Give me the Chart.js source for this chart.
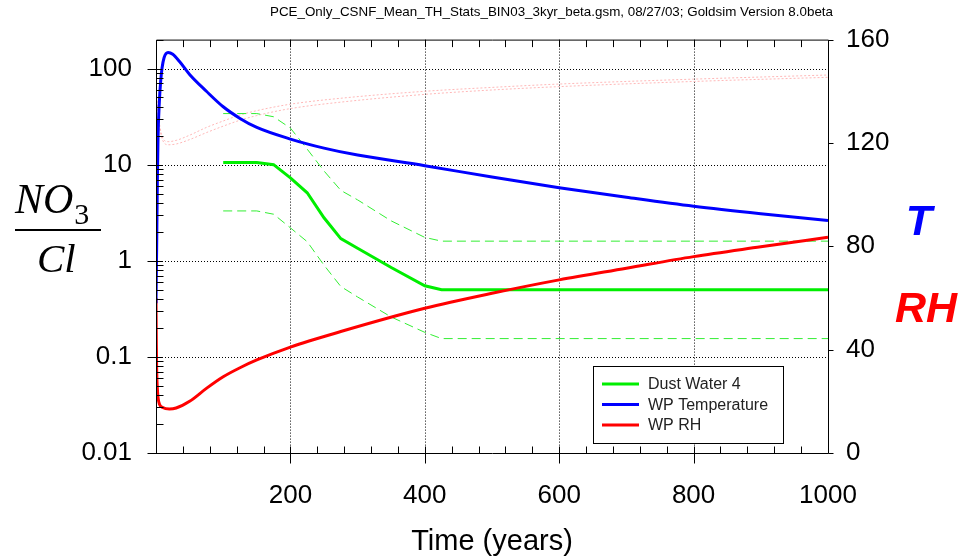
<!DOCTYPE html>
<html>
<head>
<meta charset="utf-8">
<script src="https://cdn.jsdelivr.net/npm/chart.js@4.4.1/dist/chart.umd.min.js"></script>
<style>
  html, body { margin: 0; padding: 0; background: #fff; }
</style>
</head>
<body>
<canvas id="chart" width="969" height="558"></canvas>
<script>
// dust water NO3/Cl ratio (mean and bounds), left log axis
const timeDust = [100, 150, 175, 200, 225, 250, 275, 300, 350, 400, 425, 1000];
const dustMean = [10.5, 10.5, 10, 7.3, 5.1, 2.8, 1.7, 1.35, 0.85, 0.55, 0.5, 0.5];
const dustHigh = [34, 34, 31.5, 24, 14.5, 8.6, 5.4, 4.3, 2.6, 1.75, 1.6, 1.6];
const dustLow = [3.3, 3.3, 3.05, 2.2, 1.58, 0.9, 0.54, 0.42, 0.26, 0.18, 0.155, 0.155];

// waste package temperature, right axis
const timeTemp = [0, 1, 2, 3, 5, 7, 9, 12, 18, 25, 35, 50, 75, 100, 125, 150, 200, 250, 300, 400, 500, 600, 700, 800, 900, 1000];
const tempWP = [58, 80, 105, 122, 136, 144, 149, 153, 155, 154.3, 151.5, 146.5, 140, 134, 129.5, 126, 121.5, 118, 115.3, 111.2, 106.8, 102.7, 99, 95.5, 92.6, 90];

// waste package relative humidity, right axis
const timeRH = [0, 0.5, 1, 2, 3, 5, 10, 20, 30, 50, 75, 100, 125, 150, 200, 275, 400, 500, 600, 700, 800, 900, 1000];
const rhWP = [60, 42, 32, 25, 21.5, 19, 17.6, 17, 17.4, 20, 25, 29.5, 33, 36, 41, 47, 56, 61.8, 67, 71.5, 76, 79.8, 83.5];

// faint band curves
const timeBand = [0, 3, 6, 10, 18, 30, 50, 75, 100, 125, 150, 200, 275, 400, 500, 600, 800, 1000];
const bandHigh = [141, 132, 126, 122, 120.5, 121, 123, 126, 128.5, 130.8, 132.5, 135, 137.3, 140, 141.5, 142.8, 144.7, 146.3];
const bandLow = [141, 131, 125, 121, 119.3, 119.6, 121.3, 124, 126.5, 128.8, 130.6, 133.3, 135.8, 138.8, 140.5, 141.8, 143.8, 145.4];

const xTicks = [200, 400, 600, 800, 1000];
const logTicks = [0.01, 0.1, 1, 10, 100];
const rightTicks = [0, 40, 80, 120, 160];

const headerText = 'PCE_Only_CSNF_Mean_TH_Stats_BIN03_3kyr_beta.gsm, 08/27/03; Goldsim Version 8.0beta';
const legendItems = [
  { label: 'Dust Water 4', color: '#00ee00' },
  { label: 'WP Temperature', color: '#0000ff' },
  { label: 'WP RH', color: '#ff0000' }
];

const FONT = 'Arial, "Liberation Sans", sans-serif';
const SERIF = '"Liberation Serif", "Times New Roman", serif';

function pts(xs, ys) {
  return xs.map((x, i) => ({ x: x, y: ys[i] }));
}

const decorations = {
  id: 'decorations',
  beforeDatasetsDraw(chart) {
    const { ctx, chartArea: a, scales } = chart;
    ctx.save();
    ctx.strokeStyle = '#000';
    ctx.lineWidth = 1;
    ctx.setLineDash([1, 2]);
    ctx.beginPath();
    [200, 400, 600, 800].forEach(v => {
      const x = Math.round(scales.x.getPixelForValue(v)) + 0.5;
      ctx.moveTo(x, a.top);
      ctx.lineTo(x, a.bottom);
    });
    [0.1, 1, 10, 100].forEach(v => {
      const y = Math.round(scales.y.getPixelForValue(v)) + 0.5;
      ctx.moveTo(a.left, y);
      ctx.lineTo(a.right, y);
    });
    ctx.stroke();
    ctx.restore();
  },
  afterDatasetsDraw(chart) {
    const { ctx, chartArea: a, scales } = chart;
    const L = a.left + 0.5, R = Math.round(a.right) + 0.5, T = a.top + 0.5, B = Math.round(a.bottom) + 0.5;
    ctx.save();
    ctx.strokeStyle = '#000';
    ctx.lineWidth = 1;
    ctx.beginPath();
    ctx.rect(L, T, R - L, B - T);
    // bottom and top ticks
    for (let v = 40; v < 1000; v += 40) {
      const x = Math.round(scales.x.getPixelForValue(v)) + 0.5;
      const major = v % 200 === 0;
      ctx.moveTo(x, major ? B + 10 : B);
      ctx.lineTo(x, B - 7);
      ctx.moveTo(x, T);
      ctx.lineTo(x, T + 7);
    }
    // left log ticks
    logTicks.forEach(d => {
      const y = Math.round(scales.y.getPixelForValue(d)) + 0.5;
      ctx.moveTo(L - 9, y);
      ctx.lineTo(L + 6, y);
      for (let m = 2; m <= 9; m++) {
        const v = d * m;
        if (v > 200) break;
        const ym = Math.round(scales.y.getPixelForValue(v)) + 0.5;
        ctx.moveTo(L, ym);
        ctx.lineTo(L + 7, ym);
      }
    });
    // right ticks
    rightTicks.forEach(v => {
      const y = Math.round(scales.y2.getPixelForValue(v)) + 0.5;
      ctx.moveTo(R, y);
      ctx.lineTo(R + 5, y);
    });
    ctx.stroke();
    ctx.restore();
  },
  afterDraw(chart) {
    const { ctx } = chart;
    ctx.save();
    ctx.fillStyle = '#000';

    // header line, narrow
    ctx.font = '13px ' + FONT;
    ctx.textBaseline = 'alphabetic';
    ctx.textAlign = 'left';
    const w = ctx.measureText(headerText).width;
    ctx.save();
    ctx.translate(270, 16);
    ctx.scale(563 / w, 1);
    ctx.fillText(headerText, 0, 0);
    ctx.restore();

    // NO3 / Cl fraction
    ctx.font = 'italic 42px ' + SERIF;
    ctx.fillText('NO', 15, 213);
    const noW = ctx.measureText('NO').width;
    ctx.font = '30px ' + SERIF;
    ctx.fillText('3', 15 + noW + 1, 224);
    ctx.fillRect(15, 229, 86, 2);
    ctx.font = 'italic 41px ' + SERIF;
    ctx.fillText('Cl', 37, 272);

    // right axis titles
    ctx.textAlign = 'center';
    ctx.font = 'italic bold 43px ' + FONT;
    ctx.fillStyle = '#0000ff';
    ctx.fillText('T', 919, 235);
    ctx.fillStyle = '#ff0000';
    ctx.fillText('RH', 926, 322);

    // legend
    ctx.fillStyle = '#fff';
    ctx.fillRect(593, 366, 190, 77);
    ctx.strokeStyle = '#000';
    ctx.lineWidth = 1;
    ctx.strokeRect(593.5, 366.5, 190, 77);
    ctx.textAlign = 'left';
    ctx.textBaseline = 'middle';
    ctx.font = '16px ' + FONT;
    legendItems.forEach((it, i) => {
      const y = 384 + i * 20.5;
      ctx.strokeStyle = it.color;
      ctx.lineWidth = 3;
      ctx.beginPath();
      ctx.moveTo(602, y);
      ctx.lineTo(639, y);
      ctx.stroke();
      ctx.fillStyle = '#222';
      ctx.fillText(it.label, 648, y + 1);
    });
    ctx.restore();
  }
};

const tickFont = { family: FONT, size: 26 };

new Chart(document.getElementById('chart'), {
  type: 'line',
  data: {
    datasets: [
      { label: 'WP Temperature', data: pts(timeTemp, tempWP), yAxisID: 'y2', borderColor: '#0000ff', borderWidth: 3, cubicInterpolationMode: 'monotone' },
      { label: 'WP RH', data: pts(timeRH, rhWP), yAxisID: 'y2', borderColor: '#ff0000', borderWidth: 3, cubicInterpolationMode: 'monotone' },
      { label: 'Dust Water 4', data: pts(timeDust, dustMean), yAxisID: 'y', borderColor: '#00ee00', borderWidth: 3, tension: 0 },
      { label: 'Dust Water 4 high', data: pts(timeDust, dustHigh), yAxisID: 'y', borderColor: '#33ee33', borderWidth: 1, borderDash: [9, 5], tension: 0 },
      { label: 'Dust Water 4 low', data: pts(timeDust, dustLow), yAxisID: 'y', borderColor: '#33ee33', borderWidth: 1, borderDash: [9, 5], tension: 0 },
      { label: 'RH band high', data: pts(timeBand, bandHigh), yAxisID: 'y2', borderColor: '#ffb8b8', borderWidth: 1, borderDash: [2, 2], cubicInterpolationMode: 'monotone' },
      { label: 'RH band low', data: pts(timeBand, bandLow), yAxisID: 'y2', borderColor: '#ffb8b8', borderWidth: 1, borderDash: [2, 2], cubicInterpolationMode: 'monotone' }
    ]
  },
  options: {
    responsive: false,
    animation: false,
    layout: { padding: { top: 37, left: 0, right: 0, bottom: 0 } },
    elements: { point: { radius: 0 } },
    plugins: { legend: { display: false }, tooltip: { enabled: false } },
    scales: {
      x: {
        type: 'linear',
        min: 0,
        max: 1000,
        afterBuildTicks: s => { s.ticks = xTicks.map(v => ({ value: v })); },
        afterFit: s => { s.height = 105; },
        grid: { display: false, drawTicks: false },
        border: { display: false },
        ticks: { font: tickFont, color: '#000', padding: 27, maxRotation: 0, callback: v => String(v) },
        title: { display: true, text: 'Time (years)', font: { family: FONT, size: 29, lineHeight: 1 }, color: '#000', padding: { top: 0, bottom: 2 } }
      },
      y: {
        type: 'logarithmic',
        position: 'left',
        min: 0.01,
        max: 200,
        afterBuildTicks: s => { s.ticks = logTicks.map(v => ({ value: v })); },
        afterFit: s => { s.width = 156; },
        grid: { display: false, drawTicks: false },
        border: { display: false },
        ticks: { font: tickFont, color: '#000', padding: 24, callback: v => String(v) }
      },
      y2: {
        type: 'linear',
        position: 'right',
        min: 0,
        max: 160,
        afterBuildTicks: s => { s.ticks = rightTicks.map(v => ({ value: v })); },
        afterFit: s => { s.width = 141; },
        grid: { display: false, drawTicks: false },
        border: { display: false },
        ticks: { font: tickFont, color: '#000', padding: 18 }
      }
    }
  },
  plugins: [decorations]
});
</script>
</body>
</html>
